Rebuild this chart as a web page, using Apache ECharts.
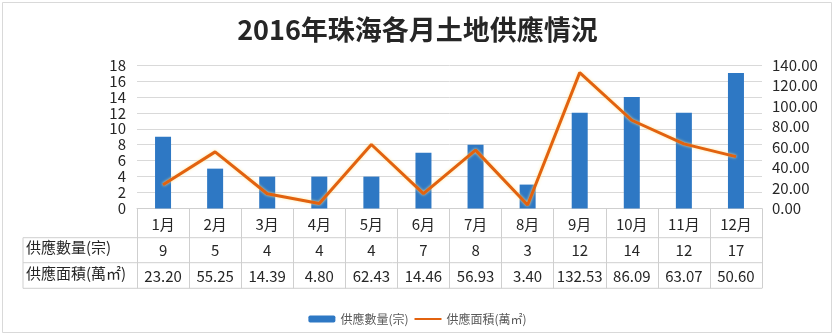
<!DOCTYPE html>
<html>
<head>
<meta charset="utf-8">
<script src="https://cdn.jsdelivr.net/npm/echarts@6/dist/echarts.min.js"></script>
<style>
html,body{margin:0;padding:0;background:#fff;}
#chart{width:835px;height:336px;}
</style>
</head>
<body>
<div id="chart"></div>
<script>
const titleText = '2016年珠海各月土地供應情況';
const months = ['1月','2月','3月','4月','5月','6月','7月','8月','9月','10月','11月','12月'];
const countName = '供應數量(宗)';
const areaName = '供應面積(萬㎡)';
const counts = [9, 5, 4, 4, 4, 7, 8, 3, 12, 14, 12, 17];
const areas = [23.20, 55.25, 14.39, 4.80, 62.43, 14.46, 56.93, 3.40, 132.53, 86.09, 63.07, 50.60];

const FONT = '"Noto Sans CJK TC", "Noto Sans", sans-serif';
const TXT = '#262626';
const LINEC = '#cfcfcf';
const chart = echarts.init(document.getElementById('chart'), null, {renderer: 'canvas'});

const gridLeft = 137, gridRight = 762, gridTop = 65, gridBottom = 208.5;
const rowY = [237.7, 262.7, 288.3];

chart.setOption({
  animation: false,
  backgroundColor: '#fff',
  textStyle: {fontFamily: FONT},
  title: {
    text: titleText,
    left: 'center',
    top: 11,
    textStyle: {fontSize: 27, fontWeight: 'bold', color: '#262626', fontFamily: FONT}
  },
  legend: {
    left: 'center',
    top: 308,
    itemGap: 5,
    itemWidth: 27,
    itemHeight: 7,
    textStyle: {fontSize: 12, color: '#595959', fontFamily: FONT},
    data: [countName, {name: areaName, itemStyle: {opacity: 0}}]
  },
  grid: {left: gridLeft, right: 835 - gridRight, top: gridTop, bottom: 336 - gridBottom},
  xAxis: {
    type: 'category',
    data: months,
    boundaryGap: true,
    axisLine: {show: true, lineStyle: {color: LINEC, width: 1}},
    axisTick: {show: true, length: rowY[2] - gridBottom, lineStyle: {color: LINEC, width: 1}},
    axisLabel: {
      interval: 0,
      margin: 2,
      formatter: function (v, i) {
        return '{m|' + v + '}\n{v|' + counts[i] + '}\n{v|' + areas[i].toFixed(2) + '}';
      },
      rich: {
        m: {fontSize: 15, lineHeight: 27, color: TXT, fontFamily: FONT},
        v: {fontSize: 15, lineHeight: 26, color: TXT, fontFamily: FONT}
      }
    }
  },
  yAxis: [
    {
      type: 'value', min: 0, max: 18, interval: 2,
      axisLine: {show: false}, axisTick: {show: false},
      axisLabel: {fontSize: 15, color: TXT, margin: 11, fontFamily: FONT},
      splitLine: {lineStyle: {color: '#d9d9d9', width: 1}}
    },
    {
      type: 'value', min: 0, max: 140, interval: 20,
      axisLine: {show: false}, axisTick: {show: false},
      axisLabel: {fontSize: 15, color: TXT, margin: 10, fontFamily: FONT,
        formatter: function (v) { return v.toFixed(2); }},
      splitLine: {show: false}
    }
  ],
  series: [
    {
      name: countName, type: 'bar', yAxisIndex: 0, data: counts,
      barWidth: 16,
      itemStyle: {color: '#2e78c4'}
    },
    {
      name: areaName, type: 'line', yAxisIndex: 1, data: areas,
      symbol: 'none', showSymbol: false, z: 5,
      lineStyle: {color: '#e2620f', width: 3, shadowColor: 'rgba(255,225,140,0.9)', shadowBlur: 3},
      itemStyle: {color: '#e2620f'}
    }
  ],
  graphic: [
    {type: 'rect', silent: true, shape: {x: 2.5, y: 2.5, width: 829, height: 330},
      style: {fill: 'none', stroke: '#d9d9d9', lineWidth: 1}},
    {type: 'line', silent: true, shape: {x1: 23, y1: rowY[0], x2: gridRight, y2: rowY[0]}, style: {stroke: LINEC, lineWidth: 1}},
    {type: 'line', silent: true, shape: {x1: 23, y1: rowY[1], x2: gridRight, y2: rowY[1]}, style: {stroke: LINEC, lineWidth: 1}},
    {type: 'line', silent: true, shape: {x1: 23, y1: rowY[2], x2: gridRight, y2: rowY[2]}, style: {stroke: LINEC, lineWidth: 1}},
    {type: 'line', silent: true, shape: {x1: 23, y1: rowY[0], x2: 23, y2: rowY[2]}, style: {stroke: LINEC, lineWidth: 1}},
    {type: 'text', silent: true, left: 26, top: (rowY[0] + rowY[1]) / 2 - 10,
      style: {text: countName, fontSize: 15, fill: TXT, fontFamily: FONT}},
    {type: 'text', silent: true, left: 26, top: (rowY[1] + rowY[2]) / 2 - 10,
      style: {text: areaName, fontSize: 15, fill: TXT, fontFamily: FONT}}
  ]
});
</script>
</body>
</html>
